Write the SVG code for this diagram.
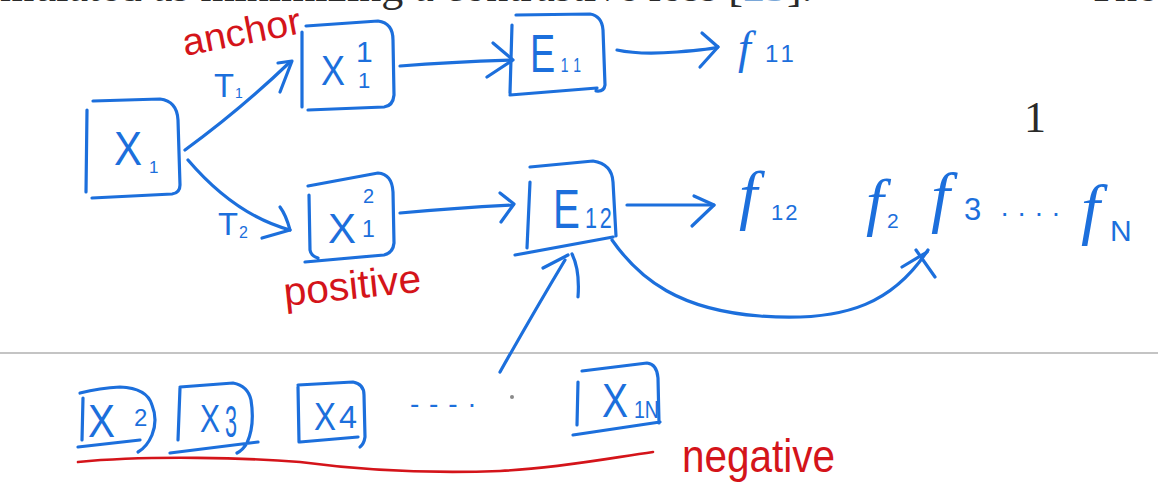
<svg xmlns="http://www.w3.org/2000/svg" width="1158" height="483" viewBox="0 0 1158 483">
<style>
.ln{fill:none;stroke:#1c6fdc;stroke-width:3.2;stroke-linecap:round;stroke-linejoin:round}
.rd{fill:none;stroke:#d4141a;stroke-width:2.6;stroke-linecap:round}
.hw{font-family:"Liberation Sans",Arial,sans-serif;fill:#1c6fdc}
.fn{font-family:"Liberation Serif","Times New Roman",serif;font-style:italic;fill:#1c6fdc}
.red{font-family:"Liberation Sans",Arial,sans-serif;fill:#d4141a}
.pr{font-family:"Liberation Serif","Times New Roman",serif;fill:#2a2a2a}
</style>
<rect width="1158" height="483" fill="#ffffff"/>

<g id="page-text">
<text class="pr" x="0" y="1" font-size="44">mulated as minimizing a contrastive loss [<tspan fill="#7aa7d8">23</tspan>].</text>
<text class="pr" x="1088" y="1" font-size="44">The</text>
<text class="pr" x="1024" y="132" font-size="44">1</text>
<line x1="0" y1="353" x2="1158" y2="353" stroke="#c4c4c4" stroke-width="2"/>
</g>

<g id="connectors">
<path class="ln" d="M185,150 Q240,110 290,62"/>
<path class="ln" d="M278,63 L292,61 L280,92"/>
<path class="ln" d="M188,160 Q235,215 290,230"/>
<path class="ln" d="M262,238 L290,230 M280,207 Q286,215 290,230"/>
<path class="ln" d="M400,66 Q450,62 512,60"/>
<path class="ln" d="M493,43 L513,60 L487,77"/>
<path class="ln" d="M617,50 Q640,55 677,52 T718,47"/>
<path class="ln" d="M702,33 L718,47 L700,67"/>
<path class="ln" d="M400,213 Q455,208 513,205"/>
<path class="ln" d="M500,193 L514,204 L501,222"/>
<path class="ln" d="M627,205 L714,205"/>
<path class="ln" d="M694,196 L714,205 L692,226"/>
<path class="ln" d="M500,372 Q535,310 565,260"/>
<path class="ln" d="M543,268 L568,255 M572,254 Q580,270 578,297"/>
<path class="ln" d="M612,240 C640,280 680,310 760,316 C850,323 895,300 928,250"/>
<path class="ln" d="M902,267 L927,252 M916,250 L935,277"/>
</g>

<g id="node-x1">
<path class="ln" d="M87,110 L86,192 M93,101 L160,99 Q177,101 178,120 L180,185 Q180,193 172,194 L92,198"/>
<text class="hw" x="114" y="165" font-size="48" textLength="28" lengthAdjust="spacingAndGlyphs">X</text>
<text class="hw" x="149" y="173" font-size="17">1</text>
</g>

<g id="node-x11">
<path class="ln" d="M302,32 L302,107 M306,26 L378,21 Q393,23 393,40 L394,95 Q393,106 384,107 L308,110"/>
<text class="hw" x="321" y="85" font-size="42" textLength="24" lengthAdjust="spacingAndGlyphs">X</text>
<text class="hw" x="356" y="62" font-size="30">1</text>
<text class="hw" x="358" y="88" font-size="22">1</text>
</g>

<g id="node-x12">
<path class="ln" d="M309,195 L310,250 Q311,256 318,258 M308,186 L378,173 Q392,174 393,192 L394,243 Q393,253 384,255 L305,262"/>
<text class="hw" x="328" y="243" font-size="42" textLength="28" lengthAdjust="spacingAndGlyphs">X</text>
<text class="hw" x="363" y="203" font-size="20">2</text>
<text class="hw" x="362" y="237" font-size="23">1</text>
</g>

<g id="node-e11">
<path class="ln" d="M512,25 L510,93 M516,15 L590,14 Q602,16 603,30 L605,85 Q604,92 596,91 M510,95 L597,88"/>
<text class="hw" font-size="54" transform="translate(530,72) scale(0.7,1)">E<tspan font-size="20" dx="8" letter-spacing="8">11</tspan></text>
</g>

<g id="node-e12">
<path class="ln" d="M530,182 L527,248 M530,167 L593,161 Q612,164 613,182 L616,236 M515,255 L613,237"/>
<text class="hw" font-size="56" transform="translate(553,228) scale(0.72,1)">E<tspan font-size="30" dx="7" letter-spacing="4">12</tspan></text>
</g>

<g id="node-f11">
<text class="fn" x="738" y="63" font-size="46">f</text>
<text class="hw" x="765" y="62" font-size="24" letter-spacing="4">11</text>
</g>

<g id="node-f12">
<text class="fn" x="739" y="217" font-size="66">f</text>
<text class="hw" x="771" y="220" font-size="22" letter-spacing="2">12</text>
</g>

<g id="node-f-rest">
<text class="fn" x="866" y="223" font-size="64">f</text>
<text class="hw" x="887" y="228" font-size="21">2</text>
<text class="fn" x="931" y="220" font-size="68">f</text>
<text class="hw" x="964" y="220" font-size="31">3</text>
<text class="hw" x="1000" y="222" font-size="28">· · · ·</text>
<text class="fn" x="1081" y="232" font-size="68">f</text>
<text class="hw" x="1110" y="241" font-size="30">N</text>
</g>

<g id="label-t1">
<text class="hw" x="214" y="97" font-size="34" textLength="20" lengthAdjust="spacingAndGlyphs">T</text>
<text class="hw" x="235" y="98" font-size="14">1</text>
</g>
<g id="label-t2">
<text class="hw" x="218" y="235" font-size="32" textLength="20" lengthAdjust="spacingAndGlyphs">T</text>
<text class="hw" x="239" y="238" font-size="16">2</text>
</g>

<g id="label-anchor">
<text class="red" x="185" y="56" font-size="38" textLength="120" lengthAdjust="spacingAndGlyphs" transform="rotate(-11 185 56)">anchor</text>
</g>
<g id="label-positive">
<text class="red" x="285" y="306" font-size="40" textLength="138" lengthAdjust="spacingAndGlyphs" transform="rotate(-6 285 306)">positive</text>
</g>

<g id="node-x2">
<path class="ln" d="M83,398 L82,440 M80,393 Q100,388 120,387 Q147,388 152,405 Q158,420 152,435 Q147,447 138,452 M78,447 L140,440"/>
<text class="hw" x="88" y="437" font-size="46" textLength="27" lengthAdjust="spacingAndGlyphs">X</text>
<text class="hw" x="134" y="426" font-size="24">2</text>
</g>

<g id="node-x3">
<path class="ln" d="M180,388 L178,440 M180,387 L233,383 Q248,386 251,400 Q255,425 247,443 Q243,450 237,453 M170,453 L258,442"/>
<text class="hw" x="200" y="432" font-size="38" textLength="20" lengthAdjust="spacingAndGlyphs">X</text>
<text class="hw" x="225" y="437" font-size="44" textLength="12" lengthAdjust="spacingAndGlyphs">3</text>
</g>

<g id="node-x4">
<path class="ln" d="M298,387 L299,442 M298,385 L353,382 Q364,384 364,395 L365,437 Q364,444 360,447 M300,442 L358,437"/>
<text class="hw" x="314" y="430" font-size="39" textLength="22" lengthAdjust="spacingAndGlyphs">X</text>
<text class="hw" x="339" y="428" font-size="32" textLength="18" lengthAdjust="spacingAndGlyphs">4</text>
</g>

<g id="node-ellipsis">
<text class="hw" x="410" y="413" font-size="28" letter-spacing="1">- - - ·</text>
<circle cx="512" cy="397" r="2" fill="#8a8a8a"/>
</g>

<g id="node-xN">
<path class="ln" d="M578,382 L577,425 M582,371 L647,363 Q657,364 658,378 L659,423 M573,435 L660,422"/>
<text class="hw" x="602" y="417" font-size="48" textLength="26" lengthAdjust="spacingAndGlyphs">X</text>
<text class="hw" x="634" y="418" font-size="24" textLength="25" lengthAdjust="spacingAndGlyphs">1N</text>
</g>

<g id="label-negative">
<path class="rd" d="M78,462 C150,455 250,458 300,462 C360,470 420,474 500,471 C560,468 610,458 653,452"/>
<text class="red" x="682" y="472" font-size="46" textLength="153" lengthAdjust="spacingAndGlyphs">negative</text>
</g>
</svg>
